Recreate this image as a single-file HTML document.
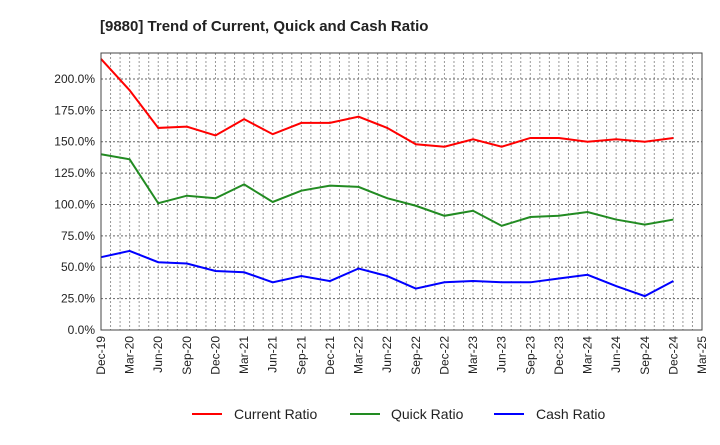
<!DOCTYPE html>
<html><head><meta charset="utf-8"><style>
body{margin:0;background:#fff;font-family:"Liberation Sans",sans-serif}
svg text{font-family:"Liberation Sans",sans-serif;fill:#222}
</style></head><body>
<svg width="720" height="440">
<text x="100" y="31" font-size="15" font-weight="bold">[9880]  Trend of Current, Quick and Cash Ratio</text>
<g id="grid"></g><g id="axes"></g><g id="series"></g>
<rect x="101" y="53" width="601" height="277" fill="none" stroke="#444" stroke-width="1"/>
<g>
<line x1="192" y1="414" x2="222" y2="414" stroke="#f00" stroke-width="2"/><text x="234" y="419" font-size="14">Current Ratio</text>
<line x1="350" y1="414" x2="380" y2="414" stroke="#228b22" stroke-width="2"/><text x="391" y="419" font-size="14">Quick Ratio</text>
<line x1="494" y1="414" x2="524" y2="414" stroke="#00f" stroke-width="2"/><text x="536" y="419" font-size="14">Cash Ratio</text>
</g>
</svg>
<script>
const categories=["Dec-19","Mar-20","Jun-20","Sep-20","Dec-20","Mar-21","Jun-21","Sep-21","Dec-21","Mar-22","Jun-22","Sep-22","Dec-22","Mar-23","Jun-23","Sep-23","Dec-23","Mar-24","Jun-24","Sep-24","Dec-24","Mar-25"];
const currentRatio=[216,191,161,162,155,168,156,165,165,170,161,148,146,152,146,153,153,150,152,150,153];
const quickRatio=[140,136,101,107,105,116,102,111,115,114,105,99,91,95,83,90,91,94,88,84,88];
const cashRatio=[58,63,54,53,47,46,38,43,39,49,43,33,38,39,38,38,41,44,35,27,39];
const yTicks=[0,25,50,75,100,125,150,175,200];
const NS="http://www.w3.org/2000/svg";
const x0=101,x1=702,y0=330,y1=53,yMax=220.7;
const nQ=categories.length-1;
const xs=i=>x0+(x1-x0)*i/nQ;
const ys=v=>y0-(y0-y1)*v/yMax;
function mk(t,a,p){const e=document.createElementNS(NS,t);for(const k in a)e.setAttribute(k,a[k]);p.appendChild(e);return e;}
const grid=document.getElementById('grid'),axes=document.getElementById('axes'),ser=document.getElementById('series');
for(let m=1;m<nQ*3;m++){const x=x0+(x1-x0)*m/(nQ*3);
const l=mk('line',{x1:x,x2:x,y1:y1,y2:y0,stroke:'#999','stroke-dasharray':'2,2','stroke-width':1},grid);

}
yTicks.forEach(v=>{const y=ys(v);
if(v>0){const l=mk('line',{x1:x0,x2:x1,y1:y,y2:y,stroke:'#666','stroke-dasharray':'2,2','stroke-width':1},grid);

}
const t=mk('text',{x:x0-6,y:y+4,'font-size':12,'text-anchor':'end'},axes);t.textContent=v.toFixed(1)+'%';

});
categories.forEach((c,i)=>{const x=xs(i);
const t=mk('text',{x:x+4,y:y0+6,'font-size':12,'text-anchor':'end',transform:`rotate(-90 ${x+4} ${y0+6})`},axes);t.textContent=c;

});
[[currentRatio,'#f00','current-ratio-line'],[quickRatio,'#228b22','quick-ratio-line'],[cashRatio,'#00f','cash-ratio-line']].forEach(([d,c,n])=>{
const p=mk('polyline',{points:d.map((v,i)=>xs(i)+','+ys(v)).join(' '),fill:'none',stroke:c,'stroke-width':2},ser);

});
</script>
</body></html>
